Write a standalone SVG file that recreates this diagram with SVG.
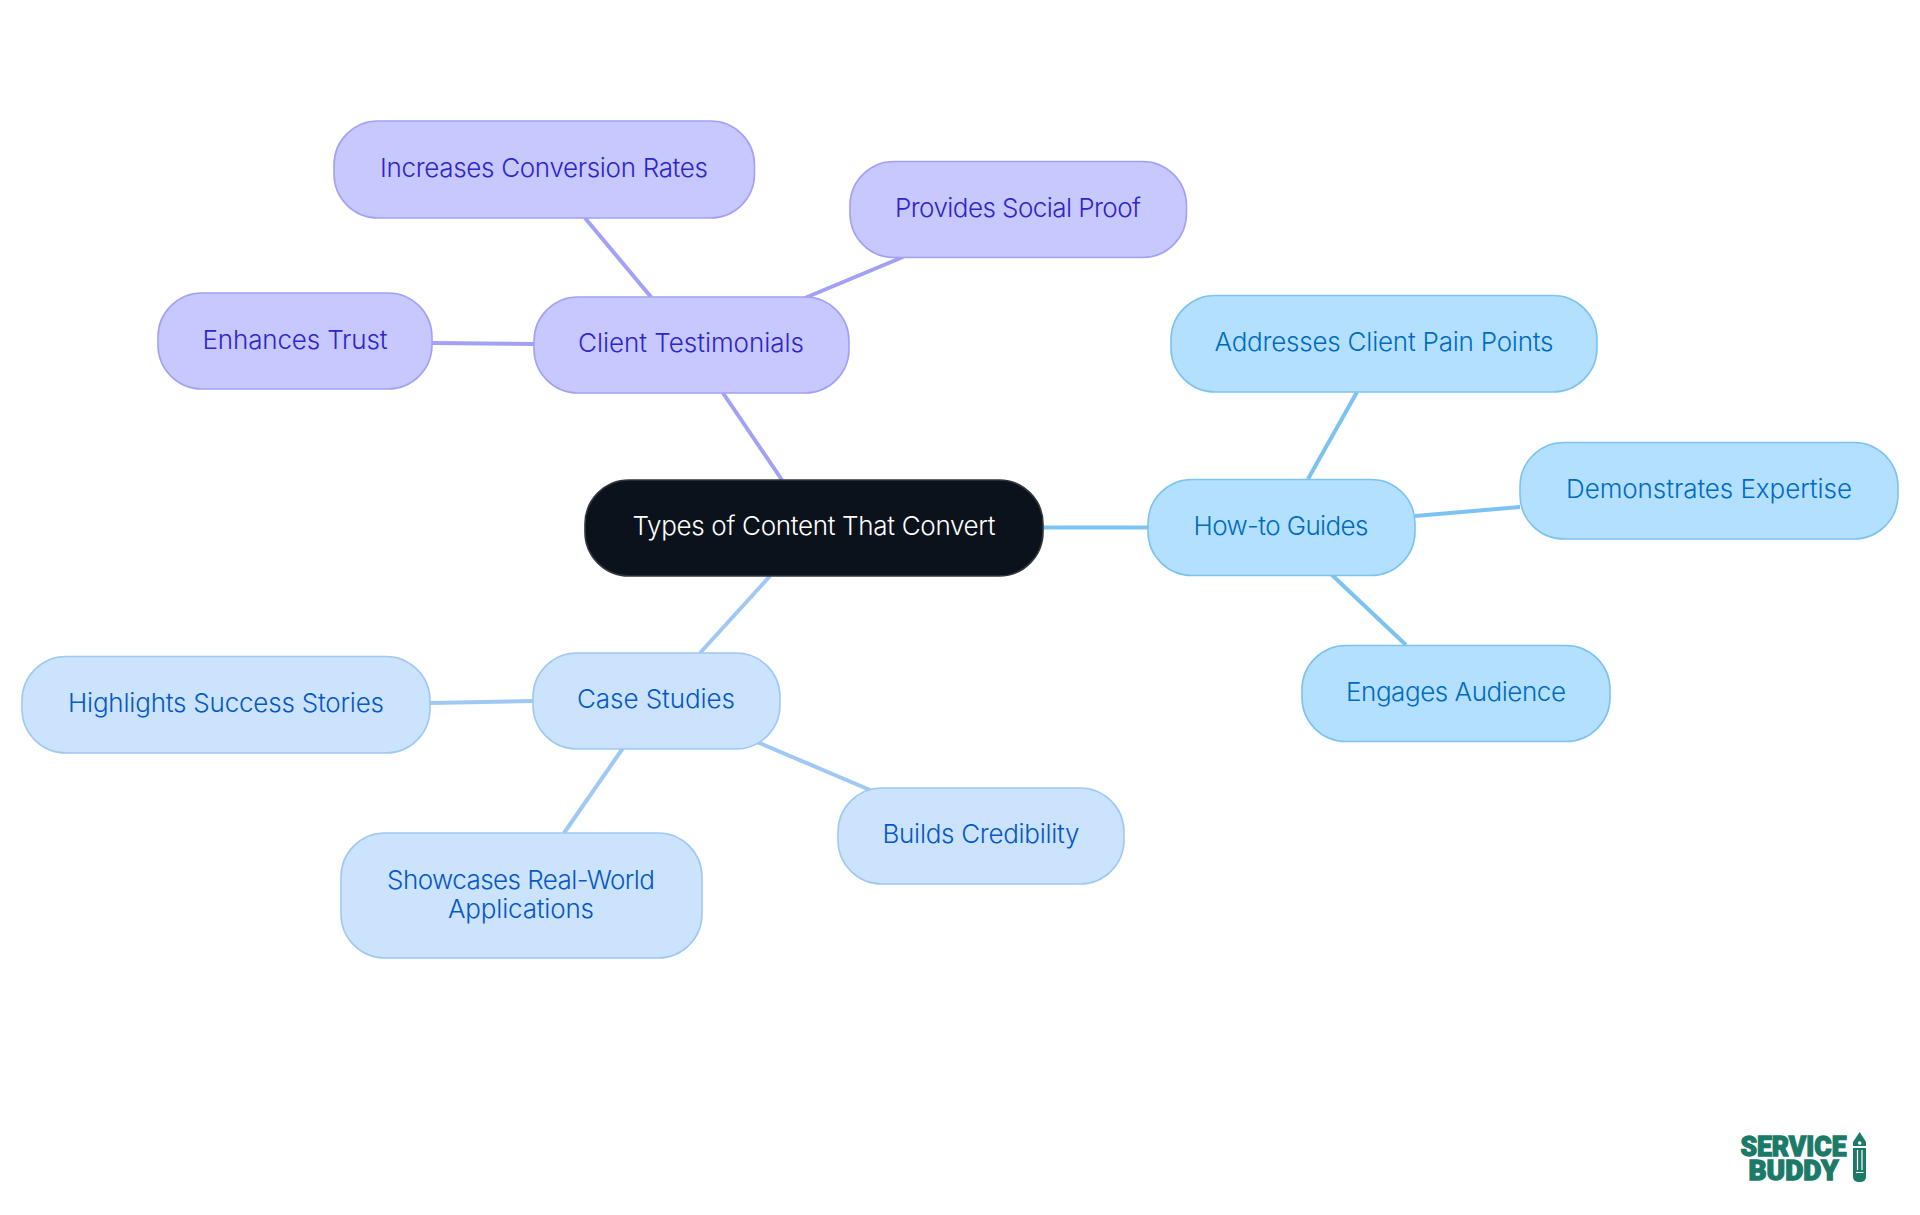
<svg xmlns="http://www.w3.org/2000/svg" width="1920" height="1215" viewBox="0 0 1920 1215">
<style>
text{font-family:"Inter","Noto Sans",sans-serif;font-size:26px;font-weight:350;text-anchor:middle}
.n rect{stroke-width:1.6}
.a rect{fill:#c7c8fe;stroke:#a3a1f5}.a text{fill:#2f25c8}
.b rect{fill:#b3e0ff;stroke:#7cc3f2}.b text{fill:#006bbf}
.c rect{fill:#cce3fd;stroke:#a0c8f5}.c text{fill:#0558c8}
#connectors line{stroke-width:4;fill:none}
.la{stroke:#a3a1f5}.lb{stroke:#7cc3f2}.lc{stroke:#a0c8f5}
#logo text{font-family:"Roboto","Lato",sans-serif;font-weight:900;fill:#1b7a68;font-size:28px;stroke:#1b7a68;stroke-width:1.300}
</style>
<rect width="1920" height="1215" fill="#fff"/>
<g id="connectors">
<line class="la" x1="782" y1="480" x2="723" y2="393"/>
<line class="la" x1="651" y1="297" x2="585" y2="218"/>
<line class="la" x1="800" y1="300" x2="903" y2="257"/>
<line class="la" x1="534" y1="344" x2="432" y2="343"/>
<line class="lb" x1="1043" y1="527.500" x2="1148" y2="527.500"/>
<line class="lb" x1="1308" y1="479" x2="1357" y2="392"/>
<line class="lb" x1="1415" y1="516" x2="1520" y2="507"/>
<line class="lb" x1="1332" y1="575" x2="1406" y2="645"/>
<line class="lc" x1="770" y1="576" x2="700" y2="653"/>
<line class="lc" x1="533" y1="701" x2="430" y2="703"/>
<line class="lc" x1="750" y1="739" x2="870" y2="790"/>
<line class="lc" x1="623" y1="748" x2="564" y2="833"/>
</g>
<g id="root"><rect x="585" y="480" width="458" height="96" rx="44" fill="#0b121b" stroke="#2f3640" stroke-width="1.6"/><text x="814" y="535" fill="#fff" textLength="363">Types of Content That Convert</text></g>
<g id="client" class="n a"><rect x="534" y="297" width="315" height="96" rx="44"/><text x="691" y="352" textLength="226">Client Testimonials</text></g>
<g id="increases" class="n a"><rect x="334" y="121" width="420.500" height="97" rx="44"/><text x="544" y="177" textLength="328">Increases Conversion Rates</text></g>
<g id="social" class="n a"><rect x="850" y="161.500" width="336.500" height="96" rx="44"/><text x="1018" y="217" textLength="246">Provides Social Proof</text></g>
<g id="trust" class="n a"><rect x="158" y="293" width="274" height="96" rx="44"/><text x="295" y="349" textLength="185">Enhances Trust</text></g>
<g id="howto" class="n b"><rect x="1148" y="479.500" width="267" height="96" rx="44"/><text x="1281" y="535" textLength="175">How-to Guides</text></g>
<g id="pain" class="n b"><rect x="1171" y="295.500" width="426" height="96.500" rx="44"/><text x="1384" y="351" textLength="339">Addresses Client Pain Points</text></g>
<g id="expertise" class="n b"><rect x="1520" y="442.500" width="378" height="96.500" rx="44"/><text x="1709" y="498" textLength="286">Demonstrates Expertise</text></g>
<g id="engages" class="n b"><rect x="1302" y="645.500" width="308" height="96" rx="44"/><text x="1456" y="701" textLength="220">Engages Audience</text></g>
<g id="case" class="n c"><rect x="533" y="653" width="247" height="96" rx="44"/><text x="656" y="708" textLength="158">Case Studies</text></g>
<g id="success" class="n c"><rect x="22" y="656.500" width="408" height="96.500" rx="44"/><text x="226" y="712" textLength="316">Highlights Success Stories</text></g>
<g id="credibility" class="n c"><rect x="838" y="788" width="286" height="96" rx="44"/><text x="981" y="843" textLength="197">Builds Credibility</text></g>
<g id="realworld" class="n c"><rect x="341" y="833" width="361" height="125" rx="44"/><text x="521" y="889" textLength="268">Showcases Real-World</text><text x="521" y="918" textLength="146">Applications</text></g>
<g id="logo">
<text x="1793.500" y="1156" textLength="106" lengthAdjust="spacingAndGlyphs">SERVICE</text><text x="1793.500" y="1180" textLength="90" lengthAdjust="spacingAndGlyphs">BUDDY</text>
<path d="M1859.700 1132l6.300 10v4h-13v-4z" fill="#1b7a68"/>
<circle cx="1859.700" cy="1143" r="1.800" fill="#fff"/>
<path d="M1853 1148h13v29a5 5 0 0 1-5 5h-3a5 5 0 0 1-5-5z" fill="#1b7a68"/>
<path d="M1857.500 1150v20M1862 1150v20M1856 1172.500h7.500" stroke="#fff" stroke-width="1.200" fill="none"/>
</g>
</svg>
